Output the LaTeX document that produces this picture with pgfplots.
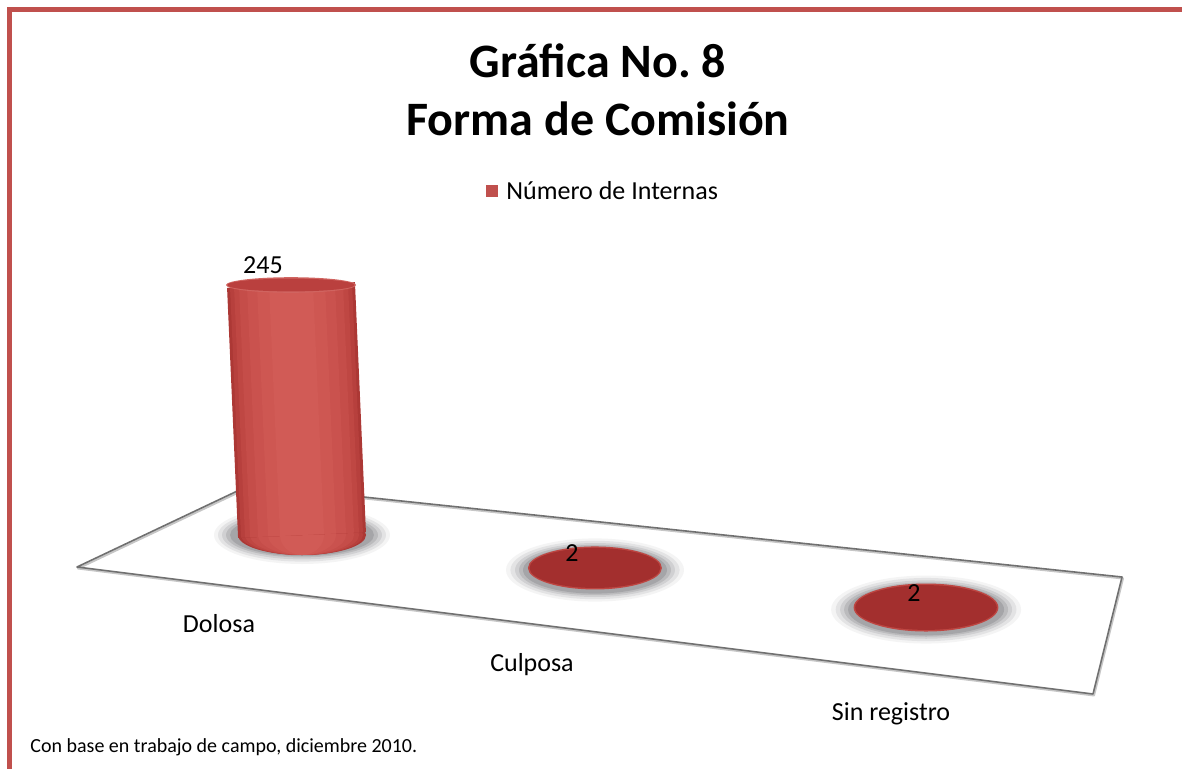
\documentclass[border=0pt]{standalone}
\usepackage{pgfplots}
\usepackage{pgfplotstable}
\pgfplotsset{compat=1.18}
\usepackage{fontspec}
\setmainfont{Carlito}
\definecolor{frame}{RGB}{192,80,77}
\definecolor{legred}{RGB}{192,80,77}
\definecolor{b1}{RGB}{172,56,53}
\definecolor{b2}{RGB}{183,64,61}
\definecolor{b3}{RGB}{191,71,67}
\definecolor{b4}{RGB}{197,77,73}
\definecolor{b5}{RGB}{202,82,78}
\definecolor{b6}{RGB}{206,87,82}
\definecolor{b7}{RGB}{209,91,86}
\definecolor{topface}{RGB}{186,64,62}
\definecolor{toprim}{RGB}{208,100,96}
\definecolor{disc}{RGB}{163,47,46}
\definecolor{discrim}{RGB}{190,70,66}
\definecolor{floorc}{RGB}{112,112,112}
\definecolor{shadowc}{RGB}{110,110,115}

\pgfplotstableread{
pos value
0 245
1 2
2.13 2
}\datatable

\begin{document}
\begin{tikzpicture}
\path[use as bounding box] (0,0) rectangle (591pt,-384.5pt);
\clip (0,0) rectangle (591pt,-384.5pt);
\begin{scope}[x=0.5pt,y=-0.5pt]
  \draw[frame, line width=2.5pt] (9.5,9.5) rectangle (1250,850);
  \node[font=\bfseries\fontsize{24}{28}\selectfont, anchor=base, inner sep=0] at (598,78) {Gráfica No.\ 8};
  \node[font=\bfseries\fontsize{24}{28}\selectfont, anchor=base, inner sep=0] at (598,136) {Forma de Comisión};
  \fill[legred] (486,185) rectangle (498,197);
  \node[anchor=base west, font=\fontsize{13}{15}\selectfont, inner sep=0] at (506,199.5) {Número de Internas};
  \draw[floorc!40, line width=1pt, line join=round, shift={(1,1.5)}] (77,567) -- (250,485) -- (1122,577) -- (1093,694) -- cycle;
  \draw[floorc, line width=0.8pt, line join=round] (77,567) -- (250,485) -- (1122,577) -- (1093,694) -- cycle;
  \node[anchor=base, font=\fontsize{13}{15}\selectfont, inner sep=0] at (219,632) {Dolosa};
  \node[anchor=base, font=\fontsize{13}{15}\selectfont, inner sep=0] at (532,671) {Culposa};
  \node[anchor=base, font=\fontsize{13}{15}\selectfont, inner sep=0] at (891,720) {Sin registro};
  \node[anchor=base west, font=\fontsize{10}{12}\selectfont, inner sep=0] at (30,752) {Con base en trabajo de campo, diciembre 2010.};
\end{scope}
\begin{axis}[
  at={(151pt,-267.5pt)}, anchor=origin,
  x={(146.5pt,-17.5pt)}, y={(-0.02245pt,0.5102pt)},
  xmin=-0.5, xmax=2.6, ymin=0, ymax=250,
  hide axis, clip=false, clip marker paths=true,
  /pgf/number format/assume math mode=true,
  dol/.style={restrict x to domain=-0.5:0.5},
  cul/.style={restrict x to domain=0.5:1.5},
  sin/.style={restrict x to domain=1.5:2.6},
  ell/.style n args={4}{only marks, mark=*, mark size=#1pt,
     mark options={draw opacity=0, fill=#3, fill opacity=#4, yscale=#2/#1}},
  body/.style 2 args={draw=none, mark=none,
     error bars/.cd, y dir=minus, y explicit, error mark=none,
     error bar style={line width=#1pt, draw=#2, solid, line cap=butt}},
  lbl/.style 2 args={nodes near coords,
     every node near coord/.append style={anchor=center, xshift=#1pt, yshift=#2pt,
       font=\fontsize{13}{15}\selectfont, text=black, inner sep=0}},
]
% soft shadows round the bases
\addplot[dol, ell={44}{14.5}{shadowc}{0.08}] table[x=pos, y expr=0] {\datatable};
\addplot[dol, ell={42}{13.3}{shadowc}{0.12}] table[x=pos, y expr=0] {\datatable};
\addplot[dol, ell={40}{12.2}{shadowc}{0.16}] table[x=pos, y expr=0] {\datatable};
\addplot[dol, ell={38}{11.2}{shadowc}{0.22}] table[x=pos, y expr=0] {\datatable};
\addplot[dol, ell={36}{10.5}{shadowc}{0.28}] table[x=pos, y expr=0] {\datatable};
\addplot[cul, ell={44.5}{15.8}{shadowc}{0.08}] table[x=pos, y expr=0] {\datatable};
\addplot[cul, ell={42.3}{14.6}{shadowc}{0.12}] table[x=pos, y expr=0] {\datatable};
\addplot[cul, ell={40}{13.5}{shadowc}{0.16}] table[x=pos, y expr=0] {\datatable};
\addplot[cul, ell={38}{12.6}{shadowc}{0.22}] table[x=pos, y expr=0] {\datatable};
\addplot[cul, ell={36}{11.8}{shadowc}{0.28}] table[x=pos, y expr=0] {\datatable};
\addplot[sin, ell={47.5}{17}{shadowc}{0.08}] table[x=pos, y expr=0] {\datatable};
\addplot[sin, ell={45.2}{15.8}{shadowc}{0.12}] table[x=pos, y expr=0] {\datatable};
\addplot[sin, ell={43}{14.6}{shadowc}{0.16}] table[x=pos, y expr=0] {\datatable};
\addplot[sin, ell={41}{13.6}{shadowc}{0.22}] table[x=pos, y expr=0] {\datatable};
\addplot[sin, ell={39}{12.9}{shadowc}{0.28}] table[x=pos, y expr=0] {\datatable};
% bottom of Dolosa (gradient)
\addplot[dol, ell={32}{10}{b1}{1}] table[x=pos, y expr=0] {\datatable};
\addplot[dol, ell={30.5}{10}{b2}{1}] table[x=pos, y expr=0] {\datatable};
\addplot[dol, ell={28.5}{10}{b3}{1}] table[x=pos, y expr=0] {\datatable};
\addplot[dol, ell={26}{10}{b4}{1}] table[x=pos, y expr=0] {\datatable};
\addplot[dol, ell={22}{10}{b5}{1}] table[x=pos, y expr=0] {\datatable};
\addplot[dol, ell={17}{10}{b6}{1}] table[x=pos, y expr=0] {\datatable};
\addplot[dol, ell={11}{10}{b7}{1}] table[x=pos, y expr=0] {\datatable};
% cylinder bodies (from 0 to value)
\addplot[body={64}{b1}] table[x=pos, y=value, y error=value] {\datatable};
\addplot[body={61}{b2}] table[x=pos, y=value, y error=value] {\datatable};
\addplot[body={57}{b3}] table[x=pos, y=value, y error=value] {\datatable};
\addplot[body={52}{b4}] table[x=pos, y=value, y error=value] {\datatable};
\addplot[body={44}{b5}] table[x=pos, y=value, y error=value] {\datatable};
\addplot[body={34}{b6}] table[x=pos, y=value, y error=value] {\datatable};
\addplot[body={22}{b7}] table[x=pos, y=value, y error=value] {\datatable};
% tops
\addplot[dol, ell={32.5}{3.9}{toprim}{1}] table[x=pos, y=value] {\datatable};
\addplot[dol, ell={31.8}{3.2}{topface}{1}, lbl={-14}{10}] table[x=pos, y=value] {\datatable};
\addplot[cul, ell={33.5}{10.75}{discrim}{1}] table[x=pos, y=value] {\datatable};
\addplot[cul, ell={32.7}{10}{disc}{1}, lbl={-11.5}{7.5}] table[x=pos, y=value] {\datatable};
\addplot[sin, ell={36.2}{12}{discrim}{1}] table[x=pos, y=value] {\datatable};
\addplot[sin, ell={35.4}{11.2}{disc}{1}, lbl={-6}{7}] table[x=pos, y=value] {\datatable};
\end{axis}
\end{tikzpicture}
\end{document}
